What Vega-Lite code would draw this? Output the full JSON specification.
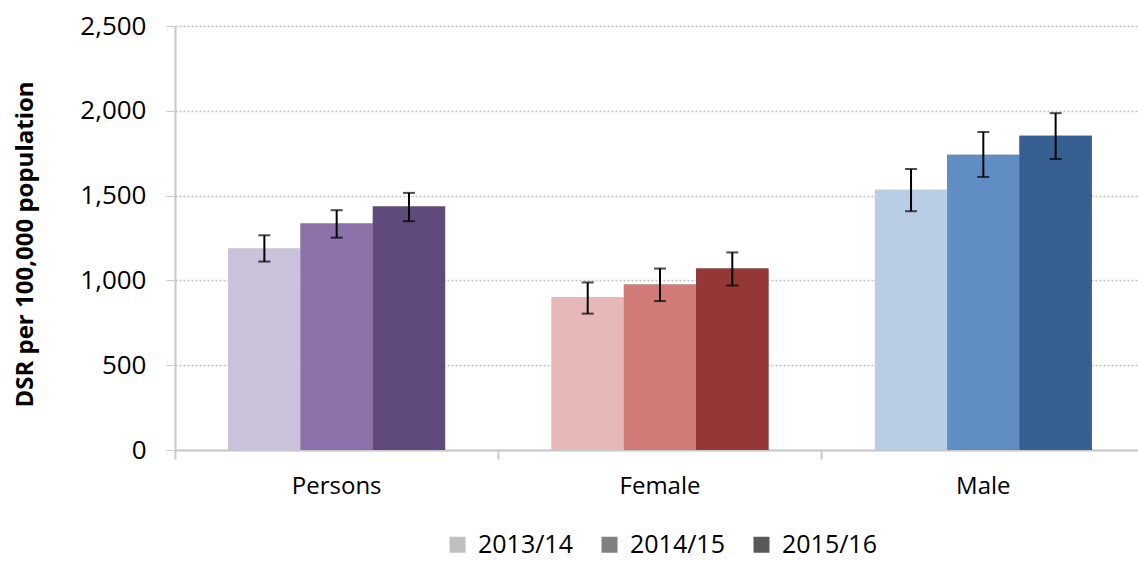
{
  "$schema": "https://vega.github.io/schema/vega-lite/v6.json",
  "autosize": "none",
  "width": 970,
  "height": 424,
  "padding": {"left": 175, "top": 26, "right": 0, "bottom": 127},
  "background": "white",
  "config": {
    "font": "Open Sans",
    "view": {"stroke": null},
    "axis": {"labelFont": "Open Sans", "titleFont": "Open Sans", "labelColor": "#000000", "titleColor": "#000000"},
    "legend": {"labelFont": "Open Sans"}
  },
  "data": {
    "values": [
      {"group": "Persons", "year": "2013/14", "series": "Persons 2013/14", "value": 1188, "lo": 1111, "hi": 1266},
      {"group": "Persons", "year": "2014/15", "series": "Persons 2014/15", "value": 1335, "lo": 1252, "hi": 1414},
      {"group": "Persons", "year": "2015/16", "series": "Persons 2015/16", "value": 1435, "lo": 1349, "hi": 1516},
      {"group": "Female", "year": "2013/14", "series": "Female 2013/14", "value": 900, "lo": 804, "hi": 988},
      {"group": "Female", "year": "2014/15", "series": "Female 2014/15", "value": 976, "lo": 878, "hi": 1070},
      {"group": "Female", "year": "2015/16", "series": "Female 2015/16", "value": 1070, "lo": 970, "hi": 1165},
      {"group": "Male", "year": "2013/14", "series": "Male 2013/14", "value": 1535, "lo": 1408, "hi": 1657},
      {"group": "Male", "year": "2014/15", "series": "Male 2014/15", "value": 1741, "lo": 1610, "hi": 1875},
      {"group": "Male", "year": "2015/16", "series": "Male 2015/16", "value": 1853, "lo": 1716, "hi": 1986}
    ]
  },
  "encoding": {
    "x": {
      "field": "group",
      "type": "nominal",
      "sort": ["Persons", "Female", "Male"],
      "scale": {"paddingInner": 0, "paddingOuter": 0},
      "axis": {
        "title": null,
        "labelAngle": 0,
        "labelFontSize": 24,
        "labelPadding": 15,
        "bandPosition": 0,
        "tickSize": 9,
        "tickWidth": 2,
        "tickColor": "#C8C8C8",
        "domainColor": "#C8C8C8",
        "domainWidth": 2,
        "labelBaseline": "top"
      }
    },
    "xOffset": {
      "field": "year",
      "type": "nominal",
      "sort": ["2013/14", "2014/15", "2015/16"],
      "scale": {"paddingInner": 0, "paddingOuter": 0.736}
    }
  },
  "layer": [
    {
      "mark": {"type": "bar"},
      "encoding": {
        "y": {
          "field": "value",
          "type": "quantitative",
          "scale": {"domain": [0, 2500], "nice": false},
          "axis": {
            "title": "DSR per 100,000 population",
            "titleFontSize": 24,
            "titleFontWeight": "bold",
            "titleAngle": -90,
            "titleX": -150,
            "titleY": 218,
            "titleAlign": "center",
            "titleBaseline": "middle",
            "values": [0, 500, 1000, 1500, 2000, 2500],
            "format": ",d",
            "labelFontSize": 26,
            "labelPadding": 20,
            "tickSize": 9,
            "tickColor": "#C8C8C8",
            "domainColor": "#C8C8C8",
            "domainWidth": 2,
            "grid": true,
            "gridColor": "#BFBFBF",
            "gridDash": [2, 2],
            "gridWidth": 1.5
          }
        },
        "color": {
          "field": "year",
          "type": "nominal",
          "sort": ["2013/14", "2014/15", "2015/16"],
          "scale": {"domain": ["2013/14", "2014/15", "2015/16"], "range": ["#BFBFBF", "#808080", "#595959"]},
          "legend": {
            "title": null,
            "orient": "none",
            "direction": "horizontal",
            "legendX": 270,
            "legendY": 506,
            "padding": 0,
            "symbolType": "square",
            "symbolSize": 256,
            "symbolStrokeWidth": 0,
            "symbolOffset": 0,
            "labelFontSize": 25,
            "labelOffset": 8,
            "columnPadding": 24,
            "labelColor": "#000000"
          }
        }
      }
    },
    {
      "mark": {"type": "bar"},
      "encoding": {
        "y": {"field": "value", "type": "quantitative"},
        "fill": {
          "field": "series",
          "type": "nominal",
          "scale": {
            "domain": ["Persons 2013/14", "Persons 2014/15", "Persons 2015/16", "Female 2013/14", "Female 2014/15", "Female 2015/16", "Male 2013/14", "Male 2014/15", "Male 2015/16"],
            "range": ["#CCC1DA", "#8B72AA", "#604A7B", "#E6B9B8", "#D17B77", "#953735", "#B9CDE5", "#618DC5", "#376092"]
          },
          "legend": null
        }
      }
    },
    {
      "mark": {"type": "rule", "color": "#000000", "strokeWidth": 2},
      "encoding": {
        "y": {"field": "lo", "type": "quantitative"},
        "y2": {"field": "hi"}
      }
    },
    {
      "mark": {"type": "tick", "color": "#000000", "thickness": 2, "size": 12},
      "encoding": {
        "y": {"field": "lo", "type": "quantitative"}
      }
    },
    {
      "mark": {"type": "tick", "color": "#000000", "thickness": 2, "size": 12},
      "encoding": {
        "y": {"field": "hi", "type": "quantitative"}
      }
    }
  ]
}
